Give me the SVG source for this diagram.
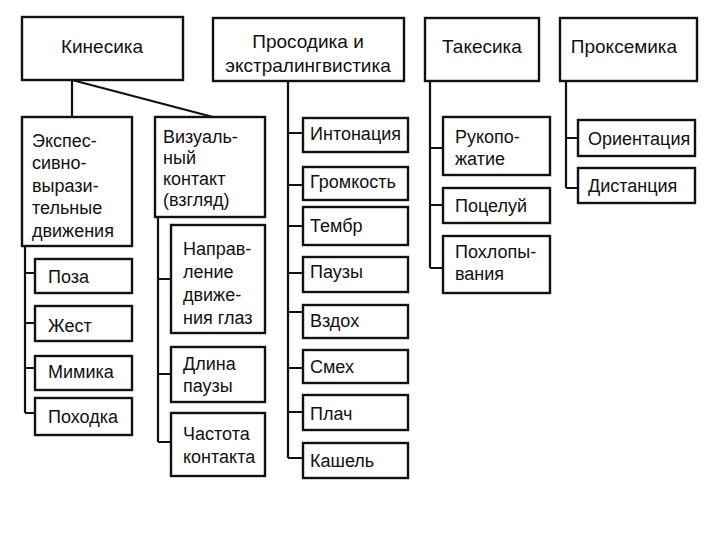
<svg xmlns="http://www.w3.org/2000/svg" width="720" height="540" viewBox="0 0 720 540">
<style>
rect{fill:#fff;stroke:#111;stroke-width:2.4}
text{font-family:"Liberation Sans",Arial,sans-serif;font-size:18px;fill:#111}
.c{text-anchor:middle}
.t{font-size:19px}
#connectors path{fill:none;stroke:#111;stroke-width:2.2}
</style>
<rect x="0" y="0" width="720" height="540" style="stroke:none"/>
<g id="connectors">
<path d="M72 80V117M72 80L213 117"/>
<path d="M25 246V413M25 273H35M25 323H35M25 368H35M25 413H35"/>
<path d="M158 217V442M158 279H171M158 374H171M158 442H171"/>
<path d="M288 81V458M288 133H303M288 185H303M288 226H303M288 273H303M288 312H303M288 368H303M288 412H303M288 458H303"/>
<path d="M430 81V268M430 148H443M430 205H443M430 268H443"/>
<path d="M566 81V188M566 138H578M566 188H578"/>
</g>
<g id="n-kinesika"><rect x="22" y="17" width="161" height="63"/><text class="c t" x="102" y="53">Кинесика</text></g>
<g id="n-prosodika"><rect x="213" y="18" width="191" height="63"/><text class="c t" x="308" y="48">Просодика и</text><text class="c t" x="308" y="72">экстралингвистика</text></g>
<g id="n-takesika"><rect x="425" y="18" width="114" height="63"/><text class="c t" x="482" y="53">Такесика</text></g>
<g id="n-proksemika"><rect x="560" y="18" width="137" height="63"/><text class="c t" x="624" y="53">Проксемика</text></g>

<g id="n-ekspress"><rect x="22" y="117" width="110" height="129"/><text x="32" y="147">Экспес-</text><text x="32" y="169">сивно-</text><text x="32" y="192">вырази-</text><text x="32" y="214">тельные</text><text x="32" y="237">движения</text></g>
<g id="n-poza"><rect x="35" y="259" width="97" height="34"/><text x="48" y="283">Поза</text></g>
<g id="n-zhest"><rect x="35" y="306" width="97" height="35"/><text x="48" y="332">Жест</text></g>
<g id="n-mimika"><rect x="35" y="356" width="97" height="34"/><text x="48" y="378">Мимика</text></g>
<g id="n-pohodka"><rect x="35" y="398" width="97" height="37"/><text x="48" y="423">Походка</text></g>

<g id="n-vizual"><rect x="155" y="117" width="110" height="100"/><text x="163" y="143">Визуаль-</text><text x="163" y="164">ный</text><text x="163" y="185">контакт</text><text x="163" y="206">(взгляд)</text></g>
<g id="n-napravl"><rect x="171" y="225" width="94" height="108"/><text x="183" y="255">Направ-</text><text x="183" y="278">ление</text><text x="183" y="301">движе-</text><text x="183" y="324">ния глаз</text></g>
<g id="n-dlina"><rect x="171" y="347" width="94" height="55"/><text x="183" y="370">Длина</text><text x="183" y="392">паузы</text></g>
<g id="n-chastota"><rect x="171" y="413" width="94" height="63"/><text x="183" y="440">Частота</text><text x="183" y="463">контакта</text></g>

<g id="n-intonacia"><rect x="303" y="118" width="105" height="34"/><text x="310" y="140">Интонация</text></g>
<g id="n-gromkost"><rect x="303" y="167" width="105" height="33"/><text x="310" y="188">Громкость</text></g>
<g id="n-tembr"><rect x="303" y="207" width="105" height="38"/><text x="310" y="232">Тембр</text></g>
<g id="n-pauzy"><rect x="303" y="257" width="105" height="35"/><text x="310" y="278">Паузы</text></g>
<g id="n-vzdoh"><rect x="303" y="305" width="105" height="33"/><text x="310" y="327">Вздох</text></g>
<g id="n-smeh"><rect x="303" y="350" width="105" height="33"/><text x="310" y="373">Смех</text></g>
<g id="n-plach"><rect x="303" y="395" width="105" height="35"/><text x="310" y="420">Плач</text></g>
<g id="n-kashel"><rect x="303" y="443" width="105" height="35"/><text x="310" y="467">Кашель</text></g>

<g id="n-rukopozh"><rect x="443" y="117" width="107" height="58"/><text x="455" y="143">Рукопо-</text><text x="455" y="165">жатие</text></g>
<g id="n-poceluy"><rect x="443" y="188" width="107" height="35"/><text x="455" y="212">Поцелуй</text></g>
<g id="n-pohlop"><rect x="443" y="236" width="107" height="57"/><text x="455" y="258">Похлопы-</text><text x="455" y="280">вания</text></g>

<g id="n-orient"><rect x="578" y="120" width="117" height="36"/><text x="588" y="145">Ориентация</text></g>
<g id="n-distanc"><rect x="578" y="168" width="117" height="35"/><text x="588" y="192">Дистанция</text></g>
</svg>
